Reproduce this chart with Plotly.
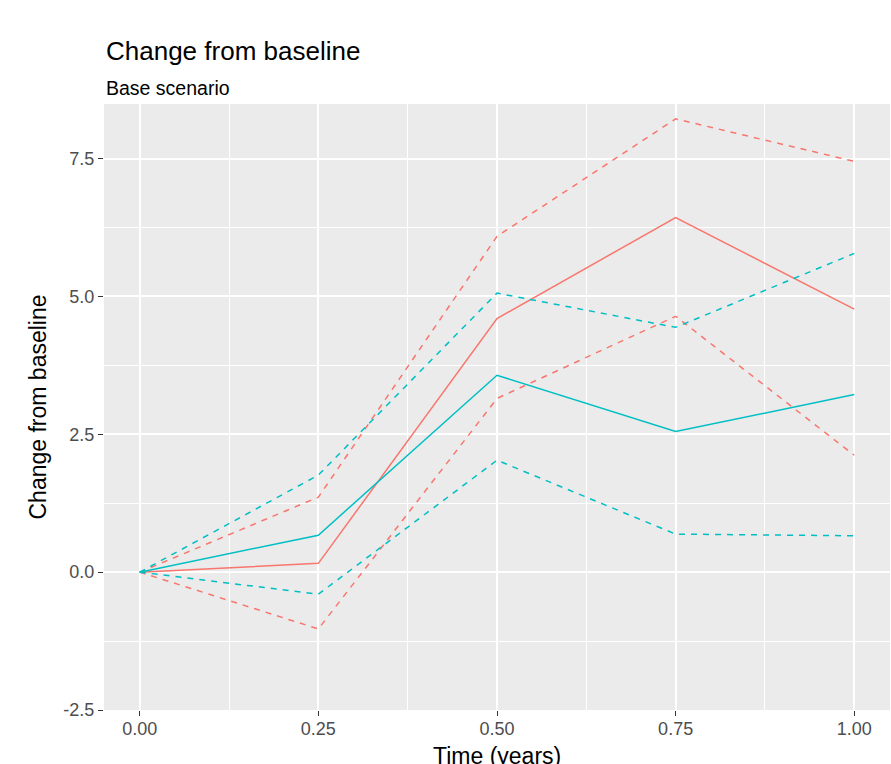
import plotly.graph_objects as go

time = [0.0, 0.25, 0.5, 0.75, 1.0]

red_mean = [0.0, 0.16, 4.60, 6.43, 4.77]
red_upper = [0.0, 1.36, 6.09, 8.22, 7.45]
red_lower = [0.0, -1.03, 3.15, 4.64, 2.12]

cyan_mean = [0.0, 0.67, 3.57, 2.55, 3.22]
cyan_upper = [0.0, 1.76, 5.06, 4.44, 5.78]
cyan_lower = [0.0, -0.40, 2.03, 0.69, 0.66]

x_ticks = [0.0, 0.25, 0.5, 0.75, 1.0]
x_labels = ["0.00", "0.25", "0.50", "0.75", "1.00"]
y_ticks = [-2.5, 0.0, 2.5, 5.0, 7.5]
y_labels = ["-2.5", "0.0", "2.5", "5.0", "7.5"]

RED = "#F8766D"
CYAN = "#00BFC4"
FONT = "Liberation Sans, Arial, sans-serif"

fig = go.Figure()
for y, c, d in [
    (red_upper, RED, "6px,6px"),
    (red_lower, RED, "6px,6px"),
    (red_mean, RED, "solid"),
    (cyan_upper, CYAN, "6px,6px"),
    (cyan_lower, CYAN, "6px,6px"),
    (cyan_mean, CYAN, "solid"),
]:
    fig.add_trace(go.Scatter(x=time, y=y, mode="lines",
                             line=dict(color=c, width=1.5, dash=d),
                             showlegend=False, hoverinfo="skip"))

plot_h = 764 - 104 - 54

fig.update_layout(
    width=891, height=764,
    margin=dict(l=104, r=1, t=104, b=54, autoexpand=False),
    paper_bgcolor="white",
    plot_bgcolor="#EBEBEB",
    font=dict(family=FONT, color="#4D4D4D"),
    showlegend=False,
)

fig.update_xaxes(
    automargin=False,
    range=[-0.05, 1.05], tickvals=x_ticks, ticktext=x_labels,
    showgrid=True, gridcolor="white", gridwidth=2,
    minor=dict(dtick=0.125, tick0=0, showgrid=True, gridcolor="white", gridwidth=1, ticklen=0),
    ticks="outside", ticklen=5, tickcolor="#333333", tickwidth=1.2,
    ticklabelstandoff=-3,
    tickfont=dict(size=18, color="#4D4D4D", family=FONT),
    zeroline=False, showline=False,
)
fig.update_yaxes(
    automargin=False,
    range=[-2.5, 8.49], tickvals=y_ticks, ticktext=y_labels,
    showgrid=True, gridcolor="white", gridwidth=2,
    minor=dict(dtick=1.25, tick0=-2.5, showgrid=True, gridcolor="white", gridwidth=1, ticklen=0),
    ticks="outside", ticklen=5, tickcolor="#333333", tickwidth=1.2,
    tickfont=dict(size=18, color="#4D4D4D", family=FONT),
    zeroline=False, showline=False,
    title=dict(text="Change from baseline", font=dict(size=23, color="black", family=FONT), standoff=10),
)

fig.add_annotation(text="Change from baseline", xref="paper", yref="paper",
                   x=0, y=1 + (104 - 62) / plot_h, xanchor="left", yanchor="bottom",
                   yshift=-6,
                   showarrow=False, font=dict(size=26, color="black", family=FONT))
fig.add_annotation(text="Base scenario", xref="paper", yref="paper",
                   x=0, y=1 + (104 - 97) / plot_h, xanchor="left", yanchor="bottom",
                   yshift=-4,
                   showarrow=False, font=dict(size=19.5, color="black", family=FONT))
fig.add_annotation(text="Time (years)", xref="paper", yref="paper",
                   x=0.5, y=0, xanchor="center", yanchor="middle", yshift=-46,
                   showarrow=False, font=dict(size=23, color="black", family=FONT))

fig.write_html("out.html", config={"displayModeBar": False},
               post_script="document.body.style.margin='0';document.body.style.overflow='hidden';")
